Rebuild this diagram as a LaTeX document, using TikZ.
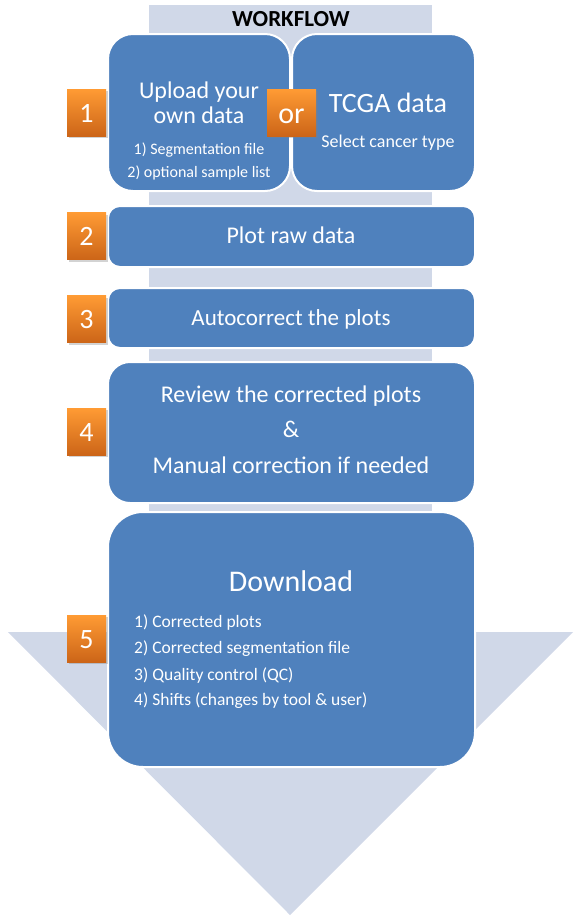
\documentclass[tikz,border=0pt]{standalone}
\usepackage{fontspec}
\setmainfont{Carlito}
\usetikzlibrary{shadows}
\definecolor{boxblue}{HTML}{4F81BD}
\definecolor{arrowgray}{HTML}{D0D8E8}
\definecolor{orangetop}{HTML}{FF9B34}
\definecolor{orangebot}{HTML}{CC6518}
\newcommand{\fsz}[1]{\fontsize{#1}{#1}\selectfont}

\begin{document}
\begin{tikzpicture}[x=1pt, y=-1pt,
	box/.style={draw=white, line width=2pt, fill=boxblue, rounded corners=#1},
	box/.default=12pt,
	badge/.style={top color=orangetop, bottom color=orangebot, text=white,
		minimum width=39pt, minimum height=47pt, inner sep=0pt,
		text height=19pt, text depth=0pt, font=\fsz{28},
		drop shadow={opacity=0.35, shadow xshift=1.5pt, shadow yshift=-2pt}},
	txt/.style={text=white, inner sep=0pt, anchor=base}]
	\useasboundingbox (0,0) rectangle (579,922);

	% background arrow
	\fill[arrowgray] (149,5) rectangle (432,632);
	\fill[arrowgray] (8,632) -- (573,632) -- (290,915) -- cycle;
	\node[txt, text=black, font=\fsz{23}\bfseries] (title) at (291,26) {WORKFLOW};

	% step boxes
	\draw[box=25pt] (108,34) rectangle (290,191);
	\draw[box=25pt] (292,34) rectangle (475,191);
	\draw[box] (108,206) rectangle (475,267);
	\draw[box] (108,288) rectangle (475,348);
	\draw[box=22pt] (108,362) rectangle (475,503);
	\draw[box=35pt] (108,512) rectangle (475,767);

	% step 1
	\node[txt, font=\fsz{24}] (upload) at (199,98) {Upload your};
	\node[txt, font=\fsz{24}] (owndata) at (199,123) {own data};
	\node[txt, font=\fsz{16}] (segfile) at (199,154) {1) Segmentation file};
	\node[txt, font=\fsz{16}] (samples) at (199,177) {2) optional sample list};
	\node[txt, font=\fsz{28}] (tcga) at (388,112) {TCGA data};
	\node[txt, font=\fsz{18}] (cancer) at (388,147) {Select cancer type};
	\node[badge, minimum width=49pt, text height=21pt, font=\fsz{30}] (or) at (291.5,112.5) {or};

	% steps 2 to 4
	\node[txt, font=\fsz{24}] (plot) at (291,243) {Plot raw data};
	\node[txt, font=\fsz{23}] (autocorrect) at (291,325) {Autocorrect the plots};
	\node[txt, font=\fsz{24}] (review) at (291,402) {Review the corrected plots};
	\node[txt, font=\fsz{24}] (amp) at (291,437) {\&};
	\node[txt, font=\fsz{24}] (manual) at (291,473) {Manual correction if needed};

	% step 5
	\node[txt, font=\fsz{30}] (download) at (291,591) {Download};
	\foreach \i/\y/\t in {1/627/Corrected plots, 2/653/Corrected segmentation file,
		3/680/Quality control (QC), 4/705/Shifts (changes by tool \& user)} {
		\node[txt, anchor=base west, font=\fsz{17.5}] (out\i) at (134,\y) {\i) \t};
	}

	% numbers
	\foreach \n/\y in {1/112.5, 2/236, 3/319, 4/431.5, 5/638.5} {
		\node[badge] (num\n) at (86.5,\y) {\n};
	}
\end{tikzpicture}
\end{document}
